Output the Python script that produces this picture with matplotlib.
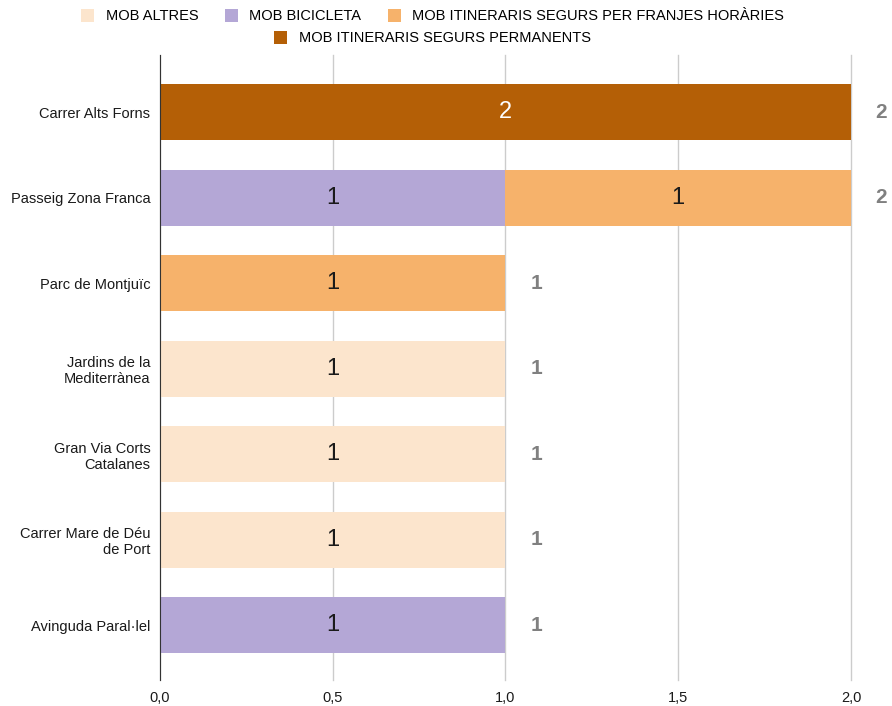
import matplotlib.pyplot as plt
from matplotlib.patches import Patch

plt.rcParams['font.family'] = ['Liberation Sans', 'DejaVu Sans']

categories = ['Carrer Alts Forns', 'Passeig Zona Franca', 'Parc de Montjuïc',
              'Jardins de la\nMediterrànea', 'Gran Via Corts\nCatalanes',
              'Carrer Mare de Déu\nde Port', 'Avinguda Paral·lel']
series_names = ['MOB ALTRES', 'MOB BICICLETA',
                'MOB ITINERARIS SEGURS PER FRANJES HORÀRIES',
                'MOB ITINERARIS SEGURS PERMANENTS']
altres = [0, 0, 0, 1, 1, 1, 0]
bicicleta = [0, 1, 0, 0, 0, 0, 1]
franjes = [0, 1, 1, 0, 0, 0, 0]
permanents = [2, 0, 0, 0, 0, 0, 0]
x_ticks = [0, 0.5, 1.0, 1.5, 2.0]
x_tick_labels = ['0,0', '0,5', '1,0', '1,5', '2,0']

colors = ['#fce5cd', '#b4a7d6', '#f6b26b', '#b45f06']
label_colors = ['#1a1a1a', '#1a1a1a', '#1a1a1a', '#ffffff']
series = [altres, bicicleta, franjes, permanents]

fig = plt.figure(figsize=(8.92, 7.06), dpi=100)
ax = fig.add_axes([160 / 892, 1 - 680 / 706, (851 - 160) / 892, (680 - 55) / 706])

y = list(range(len(categories)))
left = [0] * len(categories)
for vals, col, lcol in zip(series, colors, label_colors):
    ax.barh(y, vals, left=left, height=0.655, color=col, zorder=2)
    for i, v in enumerate(vals):
        if v > 0:
            ax.text(left[i] + v / 2, i, str(v), ha='center', va='center',
                    fontsize=17, color=lcol, zorder=3)
    left = [a + b for a, b in zip(left, vals)]

# totals to the right of each bar
for i, tot in enumerate(left):
    ax.annotate(str(tot), (tot, i), xytext=(22, 0), textcoords='offset points',
                ha='center', va='center', fontsize=15, fontweight='bold',
                color='#808080', annotation_clip=False)

ax.set_xlim(0, 2.0)
ax.set_ylim(len(categories) - 1 + 0.64, -0.67)
ax.set_yticks(y)
ax.set_yticklabels(categories, fontsize=10.5, color='#1a1a1a')
ax.set_xticks(x_ticks)
ax.set_xticklabels(x_tick_labels, fontsize=10.5, color='#1a1a1a')
ax.tick_params(length=0, pad=8)
ax.tick_params(axis='y', pad=7)
ax.xaxis.grid(True, color='#cccccc', linewidth=1, zorder=0, clip_on=False)
for s in ['top', 'right', 'bottom']:
    ax.spines[s].set_visible(False)
ax.spines['left'].set_color('#333333')
ax.spines['left'].set_zorder(4)

handles = [Patch(facecolor=c, edgecolor='none') for c in colors]
lp = {'size': 10.5}
fig.legend(handles[:3], series_names[:3], loc='center', ncol=3,
           bbox_to_anchor=(0.485, 1 - 16 / 706), frameon=False, prop=lp,
           handlelength=0.9, handleheight=1.0, columnspacing=1.8, handletextpad=0.8)
fig.legend(handles[3:], series_names[3:], loc='center', ncol=1,
           bbox_to_anchor=(0.485, 1 - 38 / 706), frameon=False, prop=lp,
           handlelength=0.9, handleheight=1.0, handletextpad=0.8)

fig.savefig('out.png', dpi=100)
